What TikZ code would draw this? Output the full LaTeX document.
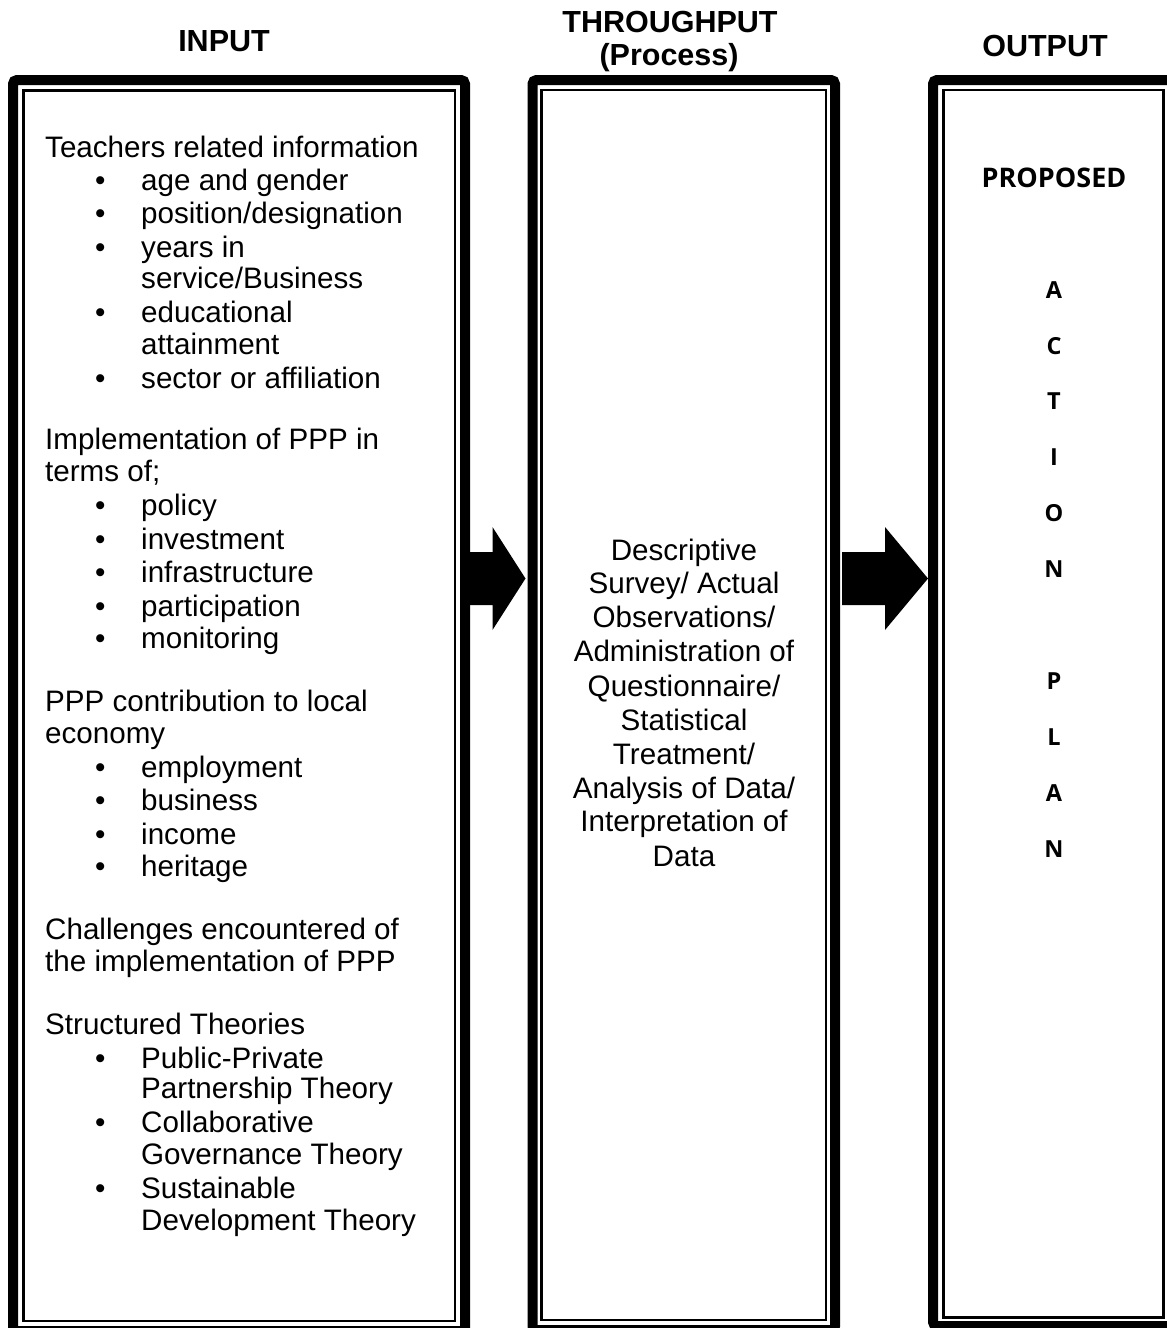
\documentclass[tikz,border=0pt]{standalone}
\usepackage{fontspec}
\setmainfont{Liberation Sans}
\newfontfamily\propfont{Open Sans}
\usetikzlibrary{calc}
\newcommand\blockarrow[3]{%
  \fill ([yshift=26.5pt]#1) -- ([xshift=-#3,yshift=26.5pt]#2) -- ([xshift=-#3,yshift=51.5pt]#2) -- (#2)
    -- ([xshift=-#3,yshift=-51.5pt]#2) -- ([xshift=-#3,yshift=-26.5pt]#2) -- ([yshift=-26.5pt]#1) -- cycle;}
\begin{document}
\begin{tikzpicture}[x=1pt,y=-1pt,
  boxouter/.style={draw, line width=10pt, rounded corners=4pt, inner sep=0pt},
  boxinner/.style={draw, line width=2.5pt},
  body/.style={font=\fontsize{29.6}{33}\selectfont, inner sep=0pt, anchor=base west},
  mtext/.style={font=\fontsize{29.6}{33}\selectfont, inner sep=0pt, anchor=base},
  head/.style={font=\fontsize{30.5}{33}\selectfont\bfseries, inner sep=0pt, anchor=base},
  prop/.style={font=\propfont\fontsize{27}{30}\selectfont\bfseries, inner sep=0pt, anchor=base},
  letter/.style={font=\propfont\fontsize{23.5}{25}\selectfont\bfseries, inner sep=0pt, anchor=base}]
\useasboundingbox (0,0) rectangle (1167,1328);

% headings
\node[head] (hin) at (224,51) {INPUT};
\node[head] (hth) at (670,32) {THROUGHPUT};
\node[head] (hpr) at (669,65) {(Process)};
\node[head] (hout) at (1045,56) {OUTPUT};

% boxes
\node[boxouter, minimum width=452pt, minimum height=1251pt] (inb) at (239,705.5) {};
\node[boxouter, minimum width=302.5pt, minimum height=1250pt] (thb) at (683.75,705) {};
\node[boxouter, minimum width=239pt, minimum height=1246pt] (outb) at (1052.5,703) {};
\draw[boxinner] ([shift={(15.5pt,-15.5pt)}]inb.north west) rectangle ([shift={(-15pt,15pt)}]inb.south east);
\draw[boxinner] ([shift={(14pt,-15pt)}]thb.north west) rectangle ([shift={(-14pt,15pt)}]thb.south east);
\draw[boxinner] ([shift={(15.5pt,-15pt)}]outb.north west) rectangle ([shift={(-13.5pt,13.5pt)}]outb.south east);

% arrows
\coordinate (mid) at (0,578.5);
\coordinate (a1s) at (inb.east |- mid);
\coordinate (a1e) at ([xshift=-2pt]thb.west |- mid);
\coordinate (a2s) at ([xshift=2pt]thb.east |- mid);
\coordinate (a2e) at (outb.west |- mid);
\blockarrow{a1s}{a1e}{33pt}
\blockarrow{a2s}{a2e}{43pt}

% input text
\node[body] (t1) at (45,157) {Teachers related information};
\node[body] (b1) at (95,190) {•}; \node[body] (t2) at (141,190) {age and gender};
\node[body] (b2) at (95,223) {•}; \node[body] (t3) at (141,223) {position/designation};
\node[body] (b3) at (95,257) {•}; \node[body] (t4) at (141,257) {years in};
\node[body] (t5) at (141,288) {service/Business};
\node[body] (b4) at (95,322) {•}; \node[body] (t6) at (141,322) {educational};
\node[body] (t7) at (141,354) {attainment};
\node[body] (b5) at (95,388) {•}; \node[body] (t8) at (141,388) {sector or affiliation};

\node[body] (t9) at (45,449) {Implementation of PPP in};
\node[body] (t10) at (45,481) {terms of;};
\node[body] (b6) at (95,515) {•}; \node[body] (t11) at (141,515) {policy};
\node[body] (b7) at (95,549) {•}; \node[body] (t12) at (141,549) {investment};
\node[body] (b8) at (95,582) {•}; \node[body] (t13) at (141,582) {infrastructure};
\node[body] (b9) at (95,616) {•}; \node[body] (t14) at (141,616) {participation};
\node[body] (b10) at (95,648) {•}; \node[body] (t15) at (141,648) {monitoring};

\node[body] (t16) at (45,711) {PPP contribution to local};
\node[body] (t17) at (45,743) {economy};
\node[body] (b11) at (95,777) {•}; \node[body] (t18) at (141,777) {employment};
\node[body] (b12) at (95,810) {•}; \node[body] (t19) at (141,810) {business};
\node[body] (b13) at (95,844) {•}; \node[body] (t20) at (141,844) {income};
\node[body] (b14) at (95,876) {•}; \node[body] (t21) at (141,876) {heritage};

\node[body] (t22) at (45,939) {Challenges encountered of};
\node[body] (t23) at (45,971) {the implementation of PPP};

\node[body] (t24) at (45,1034) {Structured Theories};
\node[body] (b15) at (95,1068) {•}; \node[body] (t25) at (141,1068) {Public-Private};
\node[body] (t26) at (141,1098) {Partnership Theory};
\node[body] (b16) at (95,1132) {•}; \node[body] (t27) at (141,1132) {Collaborative};
\node[body] (t28) at (141,1164) {Governance Theory};
\node[body] (b17) at (95,1198) {•}; \node[body] (t29) at (141,1198) {Sustainable};
\node[body] (t30) at (141,1230) {Development Theory};

% throughput text
\node[mtext] (m1) at (684,560) {Descriptive};
\node[mtext] (m2) at (684,593) {Survey/ Actual};
\node[mtext] (m3) at (684,627) {Observations/};
\node[mtext] (m4) at (684,661) {Administration of};
\node[mtext] (m5) at (684,696) {Questionnaire/};
\node[mtext] (m6) at (684,730) {Statistical};
\node[mtext] (m7) at (684,764) {Treatment/};
\node[mtext] (m8) at (684,798) {Analysis of Data/};
\node[mtext] (m9) at (684,831) {Interpretation of};
\node[mtext] (m10) at (684,866) {Data};

% output text
\node[prop] (p0) at (1054,187) {PROPOSED};
\node[letter] (l1) at (1054,298) {A};
\node[letter] (l2) at (1054,354) {C};
\node[letter] (l3) at (1054,409) {T};
\node[letter] (l4) at (1054,465) {I};
\node[letter] (l5) at (1054,521) {O};
\node[letter] (l6) at (1054,577) {N};
\node[letter] (l7) at (1054,689) {P};
\node[letter] (l8) at (1054,745) {L};
\node[letter] (l9) at (1054,801) {A};
\node[letter] (l10) at (1054,857) {N};
\end{tikzpicture}
\end{document}
